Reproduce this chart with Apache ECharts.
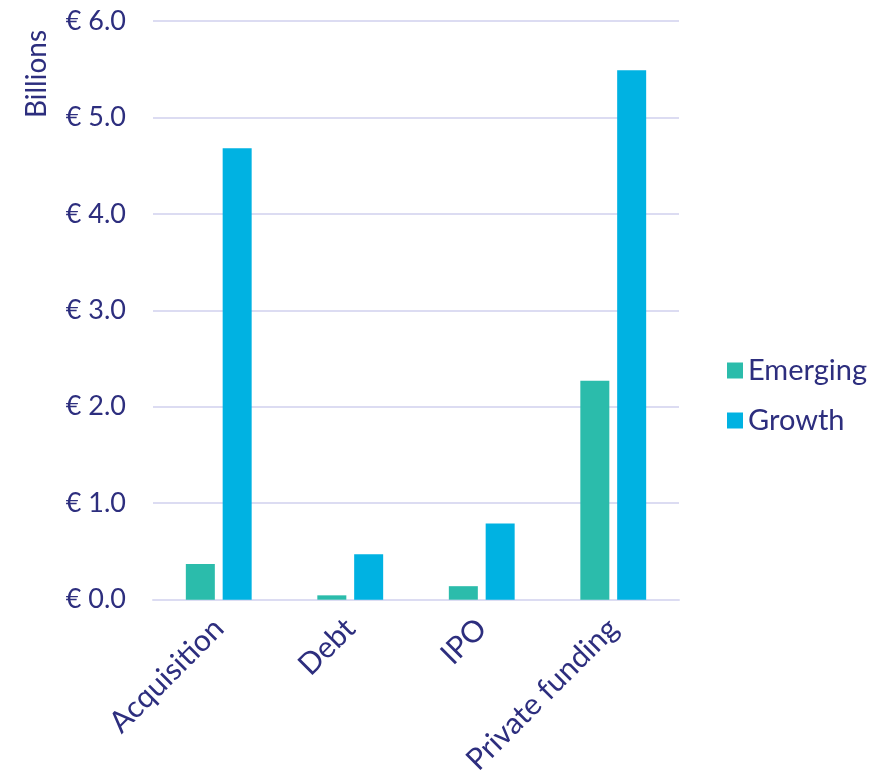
<!DOCTYPE html>
<html>
<head>
<meta charset="utf-8">
<script src="https://cdn.jsdelivr.net/npm/echarts@6/dist/echarts.min.js"></script>
<style>
  html, body { margin: 0; padding: 0; background: #ffffff; }
  #chart { width: 895px; height: 778px; }
</style>
</head>
<body>
<div id="chart"></div>
<script>
// Deal value by exit / funding type, in billions of euros
const categories = ['Acquisition', 'Debt', 'IPO', 'Private funding'];
const emerging = [0.37, 0.045, 0.14, 2.27];
const growth = [4.68, 0.47, 0.79, 5.49];
const seriesNames = ['Emerging', 'Growth'];
const yTicks = { min: 0, max: 6, interval: 1 };

const navy = '#2d2e7e';
const gridColor = '#dcdcf2';
const font = 'Lato, "Open Sans", sans-serif';

const chart = echarts.init(document.getElementById('chart'));
chart.setOption({
  animation: false,
  backgroundColor: '#ffffff',
  textStyle: { fontFamily: font, color: navy },
  grid: { left: 153, right: 216, top: 21, bottom: 173, containLabel: false },
  legend: {
    orient: 'vertical',
    left: 722,
    top: 351,
    itemWidth: 16,
    itemHeight: 16,
    itemGap: 21,
    icon: 'rect',
    textStyle: { fontFamily: font, fontSize: 29, color: navy, padding: [0, 0, 0, 0] },
    data: seriesNames
  },
  xAxis: {
    type: 'category',
    data: categories,
    axisLine: { show: true, lineStyle: { color: gridColor, width: 2 } },
    axisTick: { show: false },
    axisLabel: {
      rotate: 45,
      margin: 24,
      fontFamily: font,
      fontSize: 30,
      color: navy,
      interval: 0
    }
  },
  yAxis: {
    type: 'value',
    min: yTicks.min,
    max: yTicks.max,
    interval: yTicks.interval,
    axisLine: { show: false },
    axisTick: { show: false },
    splitLine: { lineStyle: { color: gridColor, width: 2 } },
    axisLabel: {
      margin: 27,
      fontFamily: font,
      fontSize: 27,
      color: navy,
      formatter: v => '€ ' + v.toFixed(1)
    }
  },
  graphic: [{
    type: 'text',
    x: 37,
    y: 74,
    rotation: Math.PI / 2,
    style: {
      text: 'Billions',
      fontFamily: font,
      fontSize: 28,
      fill: navy,
      align: 'center',
      verticalAlign: 'middle'
    }
  }],
  series: [
    {
      name: seriesNames[0],
      type: 'bar',
      data: emerging,
      barWidth: 29,
      barGap: '27%',
      itemStyle: { color: '#2bbcab' }
    },
    {
      name: seriesNames[1],
      type: 'bar',
      data: growth,
      barWidth: 29,
      barGap: '27%',
      itemStyle: { color: '#00b2e2' }
    }
  ]
});
</script>
</body>
</html>
